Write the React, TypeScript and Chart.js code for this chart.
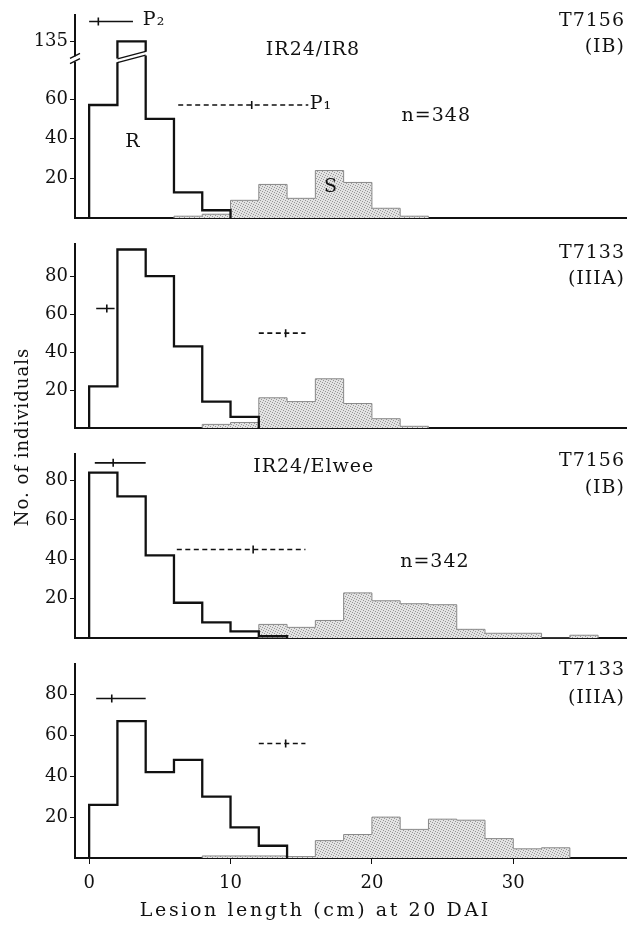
import React, { useEffect, useRef } from 'react';
import { Chart, registerables } from 'chart.js';

Chart.register(...registerables);

const FONT = '"DejaVu Serif", "Liberation Serif", serif';
const INK = '#111';

// ---- shared x axis (lesion length, cm) ----
const BIN = 2;
const X_MIN = -1;
const X_MAX = 38;
const X_TICKS = [0, 10, 20, 30];
const X_TITLE = 'Lesion length (cm) at 20 DAI';
const Y_TITLE = 'No. of individuals';

// ---- Panel A: IR24/IR8, T7156 (IB), n=348 ----
const A_R_START = 0;
const A_R = [57, 135, 50, 13, 4];
const A_S_START = 6;
const A_S = [1, 2, 9, 17, 10, 24, 18, 5, 1];
const A_Y_TICKS = [20, 40, 60, 135];
const A_BREAK_VALUE = 135;
const A_BREAK_POS = 89; // where 135 sits on the broken axis
const A_SOLID = [0, 0.65, 3.1, 99]; // low, mean, high, drawn height
const A_DASHED = [6.3, 11.5, 15.5, 57];

// ---- Panel B: IR24/IR8, T7133 (IIIA) ----
const B_R_START = 0;
const B_R = [22, 94, 80, 43, 14, 6];
const B_S_START = 8;
const B_S = [2, 3, 16, 14, 26, 13, 5, 1];
const B_Y_TICKS = [20, 40, 60, 80];
const B_SOLID = [0.5, 1.25, 1.8, 63];
const B_DASHED = [12.0, 13.9, 15.3, 50];

// ---- Panel C: IR24/Elwee, T7156 (IB), n=342 ----
const C_R_START = 0;
const C_R = [84, 72, 42, 18, 8, 3.5, 1];
const C_S_START = 12;
const C_S = [7, 5.5, 9, 23, 19, 17.5, 17, 4.5, 2.5, 2.5, 0, 1.5];
const C_Y_TICKS = [20, 40, 60, 80];
const C_SOLID = [0.4, 1.7, 4.0, 89];
const C_DASHED = [6.2, 11.6, 15.3, 45];

// ---- Panel D: IR24/Elwee, T7133 (IIIA) ----
const D_R_START = 0;
const D_R = [26, 67, 42, 48, 30, 15, 6];
const D_S_START = 8;
const D_S = [1, 1, 1, 0.7, 8.5, 11.5, 20, 14, 19, 18.5, 9.5, 4.5, 5];
const D_Y_TICKS = [20, 40, 60, 80];
const D_SOLID = [0.5, 1.6, 4.0, 78];
const D_DASHED = [12.0, 13.9, 15.3, 56];

function stepPoints(start: number, vals: number[]) {
  const pts = [{ x: start, y: 0 }];
  vals.forEach((v, i) => pts.push({ x: start + i * BIN, y: v }));
  pts.push({ x: start + vals.length * BIN, y: 0 });
  return pts;
}

const aDisplay = (v: number) => (v >= A_BREAK_VALUE ? A_BREAK_POS : v);

const textPlugin = {
  id: 'panelText',
  afterDatasetsDraw(chart: any, _args: any, opts: any) {
    const { ctx } = chart;
    const xs = chart.scales.x;
    const ys = chart.scales.y;
    const items = (opts && opts.items) || [];
    ctx.save();
    ctx.fillStyle = INK;
    ctx.textBaseline = 'middle';
    for (const it of items) {
      ctx.font = `${it.size ?? 19}px ${FONT}`;
      ctx.letterSpacing = `${it.spacing ?? 1}px`;
      ctx.textAlign = it.align ?? 'left';
      ctx.fillText(it.text, xs.getPixelForValue(it.x), ys.getPixelForValue(it.y));
    }
    ctx.restore();
  },
};

const breakPlugin = {
  id: 'axisBreak',
  afterDatasetsDraw(chart: any, _args: any, opts: any) {
    if (!opts || !opts.enabled) return;
    const { ctx, chartArea } = chart;
    const xs = chart.scales.x;
    const ys = chart.scales.y;
    const xl = xs.getPixelForValue(opts.x0);
    const xr = xs.getPixelForValue(opts.x1);
    const loL = ys.getPixelForValue(opts.lowL);
    const loR = ys.getPixelForValue(opts.lowR);
    const upL = ys.getPixelForValue(opts.upL);
    const upR = ys.getPixelForValue(opts.upR);
    ctx.save();
    ctx.fillStyle = '#fff';
    ctx.beginPath();
    ctx.moveTo(xl - 3, loL);
    ctx.lineTo(xr + 3, loR);
    ctx.lineTo(xr + 3, upR);
    ctx.lineTo(xl - 3, upL);
    ctx.closePath();
    ctx.fill();
    ctx.strokeStyle = INK;
    ctx.lineWidth = 1.4;
    ctx.beginPath();
    ctx.moveTo(xl, loL);
    ctx.lineTo(xr, loR);
    ctx.moveTo(xl, upL);
    ctx.lineTo(xr, upR);
    ctx.stroke();
    // axis break marks
    const ax = chartArea.left;
    const ya = ys.getPixelForValue(opts.axisLow);
    const yb = ys.getPixelForValue(opts.axisHigh);
    ctx.fillStyle = '#fff';
    ctx.fillRect(ax - 3, yb, 6, ya - yb);
    ctx.beginPath();
    ctx.moveTo(ax - 5, ya + 2);
    ctx.lineTo(ax + 5, ya - 3);
    ctx.moveTo(ax - 5, yb + 2);
    ctx.lineTo(ax + 5, yb - 3);
    ctx.stroke();
    ctx.restore();
  },
};

function makeStipple() {
  const c = document.createElement('canvas');
  c.width = 5;
  c.height = 5;
  const g = c.getContext('2d')!;
  g.fillStyle = '#e3e3e3';
  g.fillRect(0, 0, 5, 5);
  g.fillStyle = '#979797';
  [[0, 0], [2, 1], [4, 2], [1, 3], [3, 4]].forEach(([x, y]) => g.fillRect(x, y, 1, 1));
  return g.createPattern(c, 'repeat');
}

function markerSets(bar: number[], dashed: boolean) {
  const [lo, mean, hi, h] = bar;
  return [
    {
      data: [{ x: lo, y: h }, { x: hi, y: h }],
      borderColor: INK,
      borderWidth: 1.6,
      borderDash: dashed ? [5, 3.5] : [],
      pointRadius: 0,
      fill: false,
    },
    {
      data: [{ x: mean, y: h }],
      showLine: false,
      pointStyle: 'line',
      rotation: 90,
      pointRadius: 4,
      borderColor: INK,
      borderWidth: 1.6,
      fill: false,
    },
  ];
}

const PANELS = [
  {
    top: 0, height: 231, areaTop: 15, baseline: 228, yMax: 102.3,
    r: stepPoints(A_R_START, A_R.map(aDisplay)),
    s: stepPoints(A_S_START, A_S),
    yTicks: A_Y_TICKS.map(aDisplay),
    yLabel: (v: number) => (v === A_BREAK_POS ? String(A_BREAK_VALUE) : String(v)),
    solid: A_SOLID, dashed: A_DASHED,
    brk: { enabled: true, x0: 2, x1: 4, lowL: 78.3, lowR: 82.1, upL: 80.2, upR: 84, axisLow: 78.8, axisHigh: 81.5 },
    texts: [
      { x: 3.8, y: 99.5, text: 'P₂' },
      { x: 15.6, y: 57.5, text: 'P₁' },
      { x: 12.5, y: 84.5, text: 'IR24/IR8' },
      { x: 22.1, y: 51.4, text: 'n=348' },
      { x: 37.9, y: 99.4, text: 'T7156', align: 'right' },
      { x: 37.9, y: 86.4, text: '(IB)', align: 'right' },
      { x: 3.1, y: 38.4, text: 'R', align: 'center' },
      { x: 17.1, y: 15.8, text: 'S', align: 'center' },
    ],
    bottom: false,
  },
  {
    top: 231, height: 210, areaTop: 236, baseline: 438, yMax: 97,
    r: stepPoints(B_R_START, B_R),
    s: stepPoints(B_S_START, B_S),
    yTicks: B_Y_TICKS,
    yLabel: (v: number) => String(v),
    solid: B_SOLID, dashed: B_DASHED,
    brk: { enabled: false },
    texts: [
      { x: 37.9, y: 92, text: 'T7133', align: 'right' },
      { x: 37.9, y: 78.7, text: '(IIIA)', align: 'right' },
    ],
    bottom: false,
  },
  {
    top: 441, height: 210, areaTop: 452, baseline: 647, yMax: 93.6,
    r: stepPoints(C_R_START, C_R),
    s: stepPoints(C_S_START, C_S),
    yTicks: C_Y_TICKS,
    yLabel: (v: number) => String(v),
    solid: C_SOLID, dashed: C_DASHED,
    brk: { enabled: false },
    texts: [
      { x: 11.6, y: 86.9, text: 'IR24/Elwee' },
      { x: 22.0, y: 38.4, text: 'n=342' },
      { x: 37.9, y: 89.8, text: 'T7156', align: 'right' },
      { x: 37.9, y: 76.3, text: '(IB)', align: 'right' },
    ],
    bottom: false,
  },
  {
    top: 651, height: 277, areaTop: 660, baseline: 858, yMax: 95,
    r: stepPoints(D_R_START, D_R),
    s: stepPoints(D_S_START, D_S),
    yTicks: D_Y_TICKS,
    yLabel: (v: number) => String(v),
    solid: D_SOLID, dashed: D_DASHED,
    brk: { enabled: false },
    texts: [
      { x: 37.9, y: 91.7, text: 'T7133', align: 'right' },
      { x: 37.9, y: 78.3, text: '(IIIA)', align: 'right' },
      { x: 16, y: -26, text: X_TITLE, align: 'center', spacing: 2.6 },
    ],
    bottom: true,
  },
];

function Panel({ cfg }: { cfg: any }) {
  const ref = useRef<HTMLCanvasElement>(null);
  useEffect(() => {
    const stipple = makeStipple();
    const chart = new Chart(ref.current!, {
      type: 'line',
      data: {
        datasets: [
          ...markerSets(cfg.solid, false),
          ...markerSets(cfg.dashed, true),
          {
            data: cfg.r,
            stepped: 'before',
            borderColor: INK,
            borderWidth: 2.3,
            borderJoinStyle: 'miter',
            pointRadius: 0,
            fill: false,
          },
          {
            data: cfg.s,
            stepped: 'before',
            borderColor: '#8a8a8a',
            borderWidth: 1,
            pointRadius: 0,
            fill: 'origin',
            backgroundColor: stipple,
          },
        ] as any,
      },
      options: {
        animation: false,
        responsive: false,
        maintainAspectRatio: false,
        layout: { padding: { top: cfg.areaTop - cfg.top, left: 0, right: 0, bottom: 0 } },
        plugins: {
          legend: { display: false },
          tooltip: { enabled: false },
          panelText: { items: cfg.texts },
          axisBreak: cfg.brk,
        } as any,
        scales: {
          x: {
            type: 'linear',
            min: X_MIN,
            max: X_MAX,
            afterBuildTicks: (s: any) => {
              s.ticks = X_TICKS.map((v) => ({ value: v }));
            },
            afterFit: (s: any) => {
              s.height = cfg.top + cfg.height - cfg.baseline;
            },
            ticks: {
              display: cfg.bottom,
              autoSkip: false,
              maxRotation: 0,
              padding: 9,
              color: INK,
              font: { family: FONT, size: 18 },
            },
            grid: { display: cfg.bottom, drawOnChartArea: false, tickLength: 6, color: INK, lineWidth: 1 },
            border: { display: true, color: INK, width: 2 },
          },
          y: {
            type: 'linear',
            min: 0,
            max: cfg.yMax,
            afterBuildTicks: (s: any) => {
              s.ticks = cfg.yTicks.map((v: number) => ({ value: v }));
            },
            afterFit: (s: any) => {
              s.width = 75;
            },
            ticks: {
              padding: 2,
              color: INK,
              font: { family: FONT, size: 18 },
              callback: (v: any) => cfg.yLabel(Number(v)),
            },
            grid: { drawOnChartArea: false, tickLength: 5, color: INK, lineWidth: 1 },
            border: { display: true, color: INK, width: 2 },
          },
        } as any,
      },
      plugins: [textPlugin, breakPlugin] as any,
    });
    return () => chart.destroy();
  }, []);
  return (
    <canvas
      ref={ref}
      width={632}
      height={cfg.height}
      style={{ position: 'absolute', left: 0, top: cfg.top, width: 632, height: cfg.height }}
    />
  );
}

export default function App() {
  return (
    <div style={{ position: 'absolute', left: 0, top: 0, width: 632, height: 928, background: '#fff', overflow: 'hidden' }}>
      {PANELS.map((p, i) => (
        <Panel key={i} cfg={p} />
      ))}
      <div
        style={{
          position: 'absolute',
          left: 22 - 150,
          top: 437 - 12,
          width: 300,
          height: 24,
          lineHeight: '24px',
          textAlign: 'center',
          transform: 'rotate(-90deg)',
          fontFamily: FONT,
          fontSize: 18,
          letterSpacing: 1,
          color: INK,
        }}
      >
        {Y_TITLE}
      </div>
    </div>
  );
}
